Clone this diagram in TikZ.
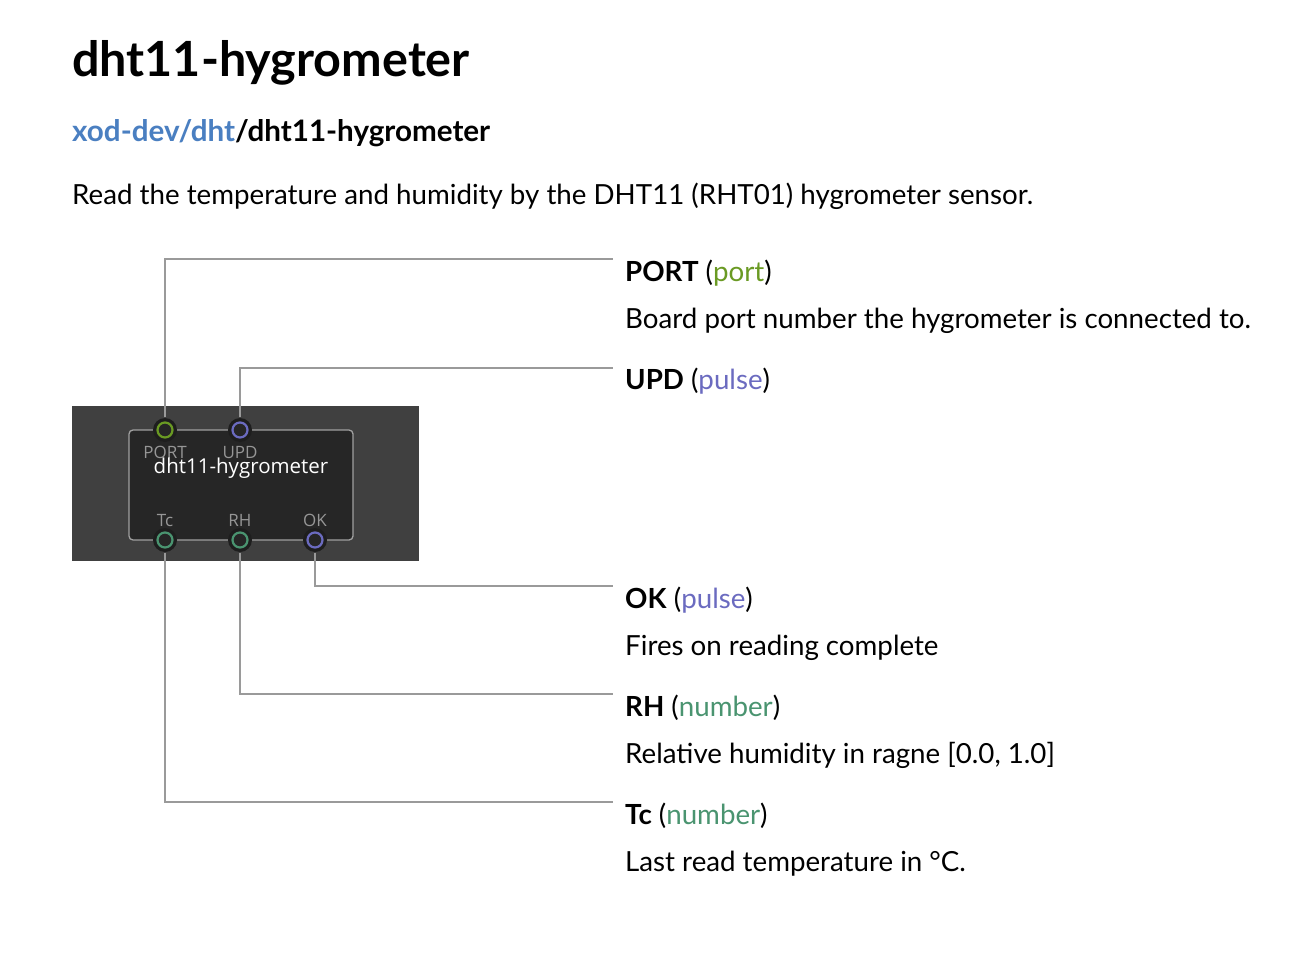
\documentclass[tikz,border=0pt]{standalone}
\usepackage{fontspec}
\setmainfont{Lato}
\setsansfont{Open Sans}
\definecolor{cport}{HTML}{6A9A23}
\definecolor{cpulse}{HTML}{6B6BC0}
\definecolor{cnum}{HTML}{4A9470}
\definecolor{clink}{HTML}{4A7FC1}
\definecolor{cline}{HTML}{9A9A9A}
\begin{document}
\begin{tikzpicture}[x=1pt,y=-1pt,
  txt/.style={anchor=base west,inner sep=0pt,font=\fontsize{27.7}{32}\selectfont},
  conn/.style={draw=cline,line width=1.3pt},
  pin/.style={circle,minimum size=15pt,inner sep=0pt,line width=2pt,draw=#1,fill={rgb,255:red,40;green,40;blue,40},
    double={rgb,255:red,30;green,30;blue,30}},
  halo/.style={circle,minimum size=24pt,inner sep=0pt,fill={rgb,255:red,30;green,30;blue,30}},
  plab/.style={font=\sffamily\fontsize{17}{18}\selectfont,text={rgb,255:red,150;green,150;blue,150},inner sep=0pt,anchor=base}]
\useasboundingbox (0,0) rectangle (1290,960);
\fill[white] (0,0) rectangle (1290,960);
\node[txt,font=\bfseries\fontsize{48.5}{54}\selectfont] (title) at (72,77) {dht11-hygrometer};
\node[txt,font=\bfseries\fontsize{29.6}{32}\selectfont] (path) at (72,142) {\textcolor{clink}{xod-dev/dht}/dht11-hygrometer};
\node[txt] (desc) at (72,205) {Read the temperature and humidity by the DHT11 (RHT01) hygrometer sensor.};
% node
\fill[fill={rgb,255:red,64;green,64;blue,64}] (72,406) rectangle (419,561);
\draw[draw={rgb,255:red,160;green,160;blue,160},fill={rgb,255:red,38;green,38;blue,38},line width=1.3pt,rounded corners=4pt] (129,430) rectangle (353,540);
\node[plab] at (165,458) {PORT};
\node[plab] at (240,458) {UPD};
\node[plab] at (165,526) {Tc};
\node[plab] at (240,526) {RH};
\node[plab] at (315,526) {OK};
\node[font=\sffamily\fontsize{20.5}{24}\selectfont,text=white,anchor=base,inner sep=0pt] (nt) at (241,473) {dht11-hygrometer};
\foreach \p/\x/\y/\c in {PORT/165/430/cport,UPD/240/430/cpulse,Tc/165/540/cnum,RH/240/540/cnum,OK/315/540/cpulse}{
  \node[halo] at (\x,\y) {};
  \node[circle,minimum size=15pt,inner sep=0pt,line width=2.2pt,draw=\c,fill={rgb,255:red,38;green,38;blue,38}] (p\p) at (\x,\y) {};
}
% labels
\coordinate (ePORT) at (613,259);
\coordinate (eUPD) at (613,368);
\coordinate (eOK) at (613,586);
\coordinate (eRH) at (613,694);
\coordinate (eTc) at (613,802);
\begin{scope}[on background layer/.style={}]
\draw[conn] (pPORT.north) ++(0,-4) |- (ePORT);
\draw[conn] (pUPD.north) ++(0,-4) |- (eUPD);
\draw[conn] (pOK.south) ++(0,4) |- (eOK);
\draw[conn] (pRH.south) ++(0,4) |- (eRH);
\draw[conn] (pTc.south) ++(0,4) |- (eTc);
\end{scope}
\node[txt] (lPORT) at (625,281) {\textbf{PORT} (\textcolor{cport}{port})};
\node[txt] (dPORT) at (625,328) {Board port number the hygrometer is connected to.};
\node[txt] (lUPD) at (625,389) {\textbf{UPD} (\textcolor{cpulse}{pulse})};
\node[txt] (lOK) at (625,608) {\textbf{OK} (\textcolor{cpulse}{pulse})};
\node[txt] (dOK) at (625,655) {Fires on reading complete};
\node[txt] (lRH) at (625,716) {\textbf{RH} (\textcolor{cnum}{number})};
\node[txt] (dRH) at (625,763) {Relative humidity in ragne [0.0, 1.0]};
\node[txt] (lTc) at (625,824) {\textbf{Tc} (\textcolor{cnum}{number})};
\node[txt] (dTc) at (625,871) {Last read temperature in °C.};
\end{tikzpicture}
\end{document}
